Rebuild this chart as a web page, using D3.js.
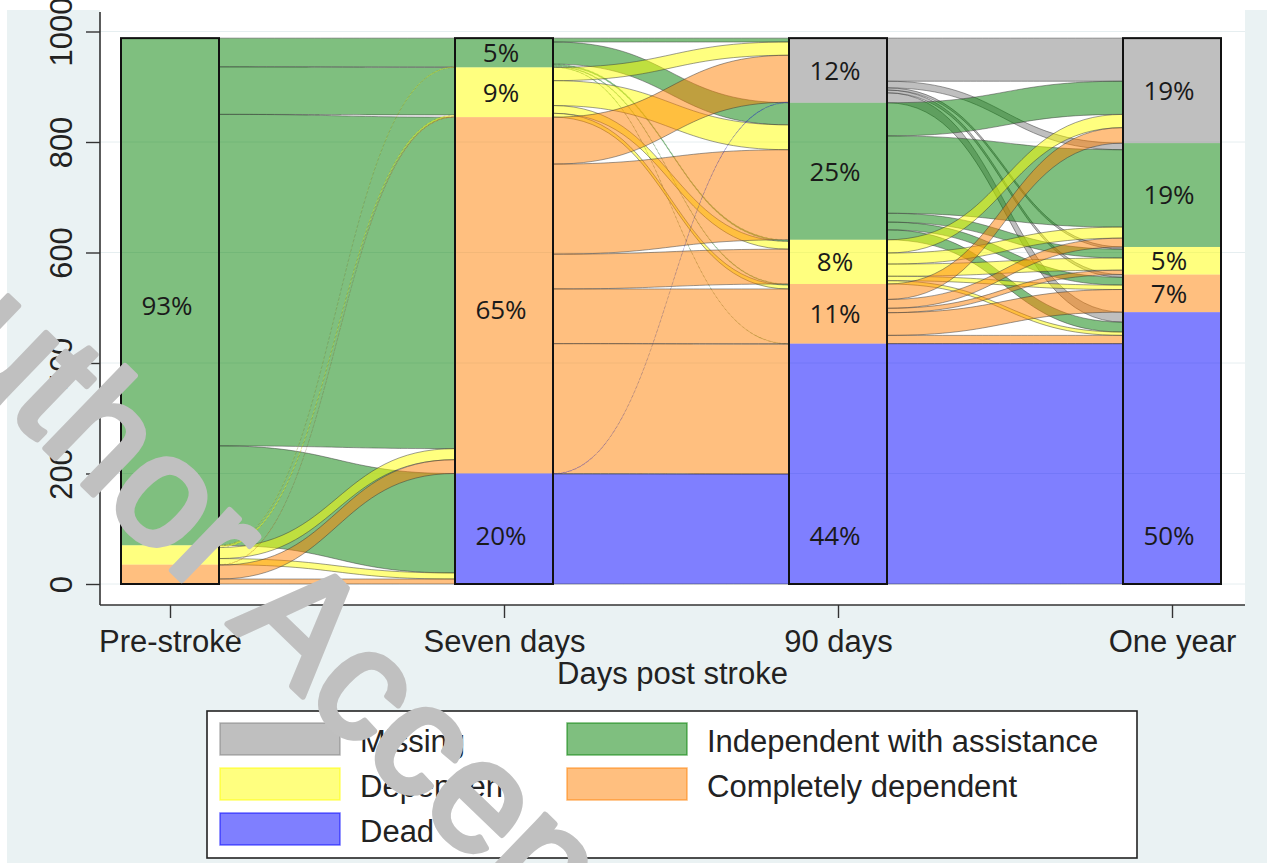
<!DOCTYPE html>
<html><head><meta charset="utf-8">
<script src="https://cdn.jsdelivr.net/npm/d3@7"></script>
<style>body{margin:0;background:#fff;} svg{display:block;}</style>
</head><body>
<svg id="c" width="1267" height="863"></svg>
<script>
// ---------- data ----------
const timepoints = ["Pre-stroke", "Seven days", "90 days", "One year"];
// stacking order, top to bottom
const categories = ["Missing", "Independent with assistance", "Dependent", "Completely dependent", "Dead"];
const categoryColors = ["#808080", "#008000", "#ffff00", "#ff8000", "#0000ff"];
const preStroke  = [0, 918, 35, 35, 0];
const sevenDays  = [0, 53, 90, 645, 200];
const ninetyDays = [117, 248, 80, 108, 435];
const oneYear    = [190, 188, 50, 68, 492];
// transitions: rows = from category, cols = to category
const flowPreToSeven = [
  [0, 0, 0, 0, 0],
  [0, 52, 86, 600, 180],
  [0, 1, 3, 20, 11],
  [0, 0, 1, 25, 9],
  [0, 0, 0, 0, 0]
];
const flowSevenToNinety = [
  [0, 0, 0, 0, 0],
  [7, 40, 3, 2, 1],
  [24, 45, 14, 7, 0],
  [85, 163, 63, 99, 235],
  [1, 0, 0, 0, 199]
];
const flowNinetyToYear = [
  [78, 12, 4, 5, 18],
  [60, 140, 16, 14, 18],
  [24, 20, 22, 8, 6],
  [28, 16, 8, 41, 15],
  [0, 0, 0, 0, 435]
];
const yTicks = [0, 200, 400, 600, 800, 1000];
const xTitle = "Days post stroke";
const watermark = "Author Accepted Manuscript";

// ---------- layout ----------
const counts = [preStroke, sevenDays, ninetyDays, oneYear];
const flows = [flowPreToSeven, flowSevenToNinety, flowNinetyToYear];
const svg = d3.select("#c");
const W = 1267, H = 863;
const plot = {l: 100, r: 1245, t: 10, b: 605};
const x = d3.scalePoint().domain(timepoints).range([170, 1172]);
const y = d3.scaleLinear().domain([0, 1000]).range([584, 31.5]);
const bw = 98;
const axisFont = "'Liberation Sans', Arial, sans-serif";

// backgrounds
svg.append("rect").attr("x", 7).attr("y", 10).attr("width", W - 7).attr("height", H - 10).attr("fill", "#eaf2f3");
svg.append("rect").attr("x", plot.l).attr("y", plot.t).attr("width", plot.r - plot.l).attr("height", plot.b - plot.t).attr("fill", "#ffffff");

// gridlines
svg.append("g").selectAll("line").data(yTicks).join("line")
  .attr("x1", plot.l).attr("x2", plot.r)
  .attr("y1", d => y(d)).attr("y2", d => y(d))
  .attr("stroke", "#e6eef0").attr("stroke-width", 1);

// cumulative tops (value at top of each category segment); stack Dead at bottom
function tops(arr) {
  const t = [];
  for (let k = 0; k < arr.length; k++) {
    let below = 0;
    for (let m = k + 1; m < arr.length; m++) below += arr[m];
    t.push(below + arr[k]);
  }
  return t;
}

// ---------- ribbons ----------
const gR = svg.append("g");
flows.forEach((M, s) => {
  const srcTop = tops(counts[s]);
  const dstTop = tops(counts[s + 1]);
  const x0 = x(timepoints[s]) + bw / 2;
  const x1 = x(timepoints[s + 1]) - bw / 2;
  const xm = (x0 + x1) / 2;
  const ribbons = [];
  for (let i = 0; i < 5; i++) {
    for (let j = 0; j < 5; j++) {
      const v = M[i][j];
      if (!v) continue;
      let sAbove = 0; for (let jj = 0; jj < j; jj++) sAbove += M[i][jj];
      let dAbove = 0; for (let ii = 0; ii < i; ii++) dAbove += M[ii][j];
      const s0 = srcTop[i] - sAbove, s1 = s0 - v;
      const d0 = dstTop[j] - dAbove, d1 = d0 - v;
      ribbons.push({i, j, v, s0, s1, d0, d1});
    }
  }
  gR.append("g").selectAll("path").data(ribbons).join("path")
    .attr("d", r => {
      const p = d3.path();
      p.moveTo(x0, y(r.s0));
      p.bezierCurveTo(xm, y(r.s0), xm, y(r.d0), x1, y(r.d0));
      p.lineTo(x1, y(r.d1));
      p.bezierCurveTo(xm, y(r.d1), xm, y(r.s1), x0, y(r.s1));
      p.closePath();
      return p.toString();
    })
    .attr("fill", r => categoryColors[r.i])
    .attr("fill-opacity", 0.5)
    .attr("stroke", "#3a3a3a")
    .attr("stroke-opacity", r => r.v <= 3 ? 0.3 : 0.55)
    .attr("stroke-width", r => r.v <= 3 ? 0.6 : 0.9)
    .attr("stroke-dasharray", r => r.v <= 3 ? "2,3" : null);
});

// ---------- bars ----------
const gB = svg.append("g");
counts.forEach((arr, t) => {
  const tp = tops(arr);
  const total = d3.sum(arr);
  const cx = x(timepoints[t]);
  const segs = arr.map((v, k) => ({k, v, top: tp[k], bot: tp[k] - v, total}));
  const g = gB.append("g");
  g.selectAll("rect.seg").data(segs.filter(d => d.v > 0)).join("rect")
    .attr("class", "seg")
    .attr("x", cx - bw / 2).attr("width", bw)
    .attr("y", d => y(d.top)).attr("height", d => y(d.bot) - y(d.top))
    .attr("fill", d => categoryColors[d.k]).attr("fill-opacity", 0.5);
  g.append("rect")
    .attr("x", cx - bw / 2).attr("width", bw)
    .attr("y", y(total)).attr("height", y(0) - y(total))
    .attr("fill", "none").attr("stroke", "#111").attr("stroke-width", 2);
  // percentage labels
  g.selectAll("text").data(segs.filter(d => d.v / d.total >= 0.045)).join("text")
    .attr("x", cx - 3)
    .attr("y", d => {
      if (d.k === 4) return y(88);
      const c = (y(d.top) + y(d.bot)) / 2;
      return (y(d.bot) - y(d.top)) > 300 ? c + 14 : c;
    })
    .attr("dy", "0.36em")
    .attr("text-anchor", "middle")
    .attr("font-family", "'Open Sans', 'Noto Sans', sans-serif")
    .attr("font-size", 26)
    .attr("fill", "#1a1a1a")
    .text(d => Math.round(100 * d.v / d.total) + "%");
});

// ---------- axes ----------
const axisCol = "#333";
svg.append("line").attr("x1", plot.l).attr("x2", plot.l).attr("y1", 12).attr("y2", plot.b)
  .attr("stroke", axisCol).attr("stroke-width", 1.6);
svg.append("line").attr("x1", plot.l).attr("x2", plot.r).attr("y1", plot.b).attr("y2", plot.b)
  .attr("stroke", axisCol).attr("stroke-width", 1.6);

const yAxis = svg.append("g").attr("transform", `translate(${plot.l},0)`)
  .call(d3.axisLeft(y).tickValues(yTicks).tickSize(14).tickSizeOuter(0).tickFormat(d3.format("d")));
yAxis.select(".domain").remove();
yAxis.selectAll(".tick line").attr("stroke", axisCol).attr("stroke-width", 1.4);
yAxis.selectAll(".tick text")
  .attr("x", null).attr("dy", null).attr("y", null)
  .attr("transform", "translate(-28,0) rotate(-90)")
  .attr("text-anchor", "middle")
  .attr("font-family", axisFont).attr("font-size", 31).attr("fill", "#222");

const xAxis = svg.append("g").attr("transform", `translate(0,${plot.b})`)
  .call(d3.axisBottom(x).tickSize(13).tickSizeOuter(0));
xAxis.select(".domain").remove();
xAxis.selectAll(".tick line").attr("stroke", axisCol).attr("stroke-width", 1.4);
xAxis.selectAll(".tick text")
  .attr("y", 47).attr("dy", null)
  .attr("font-family", axisFont).attr("font-size", 31).attr("fill", "#222");

svg.append("text").attr("x", (plot.l + plot.r) / 2).attr("y", 684)
  .attr("text-anchor", "middle").attr("font-family", axisFont).attr("font-size", 31).attr("fill", "#222")
  .text(xTitle);

// ---------- legend ----------
const lg = svg.append("g");
lg.append("rect").attr("x", 207).attr("y", 711).attr("width", 930).attr("height", 147)
  .attr("fill", "#fff").attr("stroke", "#222").attr("stroke-width", 1.6);
const colX = [220, 567], rowY = [723, 768, 813];
const items = lg.selectAll("g.item").data(categories.map((c, k) => ({c, k}))).join("g")
  .attr("class", "item")
  .attr("transform", d => `translate(${colX[d.k % 2]},${rowY[Math.floor(d.k / 2)]})`);
items.append("rect").attr("width", 120).attr("height", 32)
  .attr("fill", d => categoryColors[d.k]).attr("fill-opacity", 0.5)
  .attr("stroke", d => categoryColors[d.k]).attr("stroke-opacity", 0.55).attr("stroke-width", 1.5);
items.append("text").attr("x", 140).attr("y", 29)
  .attr("font-family", axisFont).attr("font-size", 31).attr("fill", "#222")
  .text(d => d.c);

// ---------- watermark ----------
svg.append("text")
  .attr("transform", "translate(-133,276) rotate(44)")
  .attr("font-family", axisFont).attr("font-size", 158)
  .attr("fill", "#c0c0c0").attr("stroke", "#c0c0c0").attr("stroke-width", 6).attr("stroke-linejoin", "round")
  .text(watermark);
</script>
</body></html>
